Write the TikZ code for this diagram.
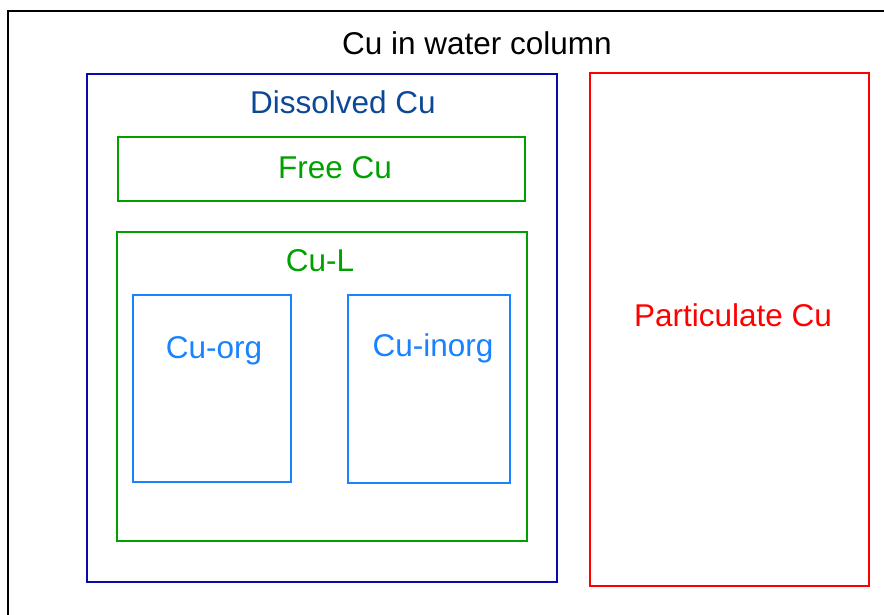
\documentclass[tikz,border=0pt]{standalone}
\usepackage{fontspec}
\setmainfont{Liberation Sans}
\definecolor{navy}{RGB}{10,10,170}
\definecolor{darkblue}{RGB}{12,72,150}
\definecolor{green}{RGB}{0,160,0}
\definecolor{lightblue}{RGB}{25,130,255}
\definecolor{red}{RGB}{255,0,0}

\begin{document}
\begin{tikzpicture}[x=1pt, y=-1pt,
    lbl/.style={inner sep=0pt, font=\fontsize{31.5}{36}\selectfont}]

\useasboundingbox (0,0) rectangle (884,615);

% Water column (cut off at right and bottom)
\draw[line width=1.5pt] (8,615) -- (8,11) -- (884,11);
\node[lbl] (water) at (477,43) {Cu in water column};

% Dissolved Cu
\draw[navy, line width=1.3pt] (87,74) rectangle (557,582);
\node[lbl, darkblue] (dissolved) at (343,102) {Dissolved Cu};

% Free Cu
\draw[green, line width=1.3pt] (118,137) rectangle (525,201);
\node[lbl, green] (free) at (335,168) {Free Cu};

% Cu-L, with organic and inorganic parts
\draw[green, line width=1.3pt] (117,232) rectangle (527,541);
\node[lbl, green] (cul) at (320,261) {Cu-L};

\draw[lightblue, line width=1.3pt] (133,295) rectangle (291,482);
\node[lbl, lightblue] (org) at (214,351) {Cu-org};

\draw[lightblue, line width=1.3pt] (348,295) rectangle (510,483);
\node[lbl, lightblue] (inorg) at (433,348) {Cu-inorg};

% Particulate Cu
\draw[red, line width=1.3pt] (590,73) rectangle (869,586);
\node[lbl, red] (particulate) at (733,315) {Particulate Cu};

\end{tikzpicture}
\end{document}
